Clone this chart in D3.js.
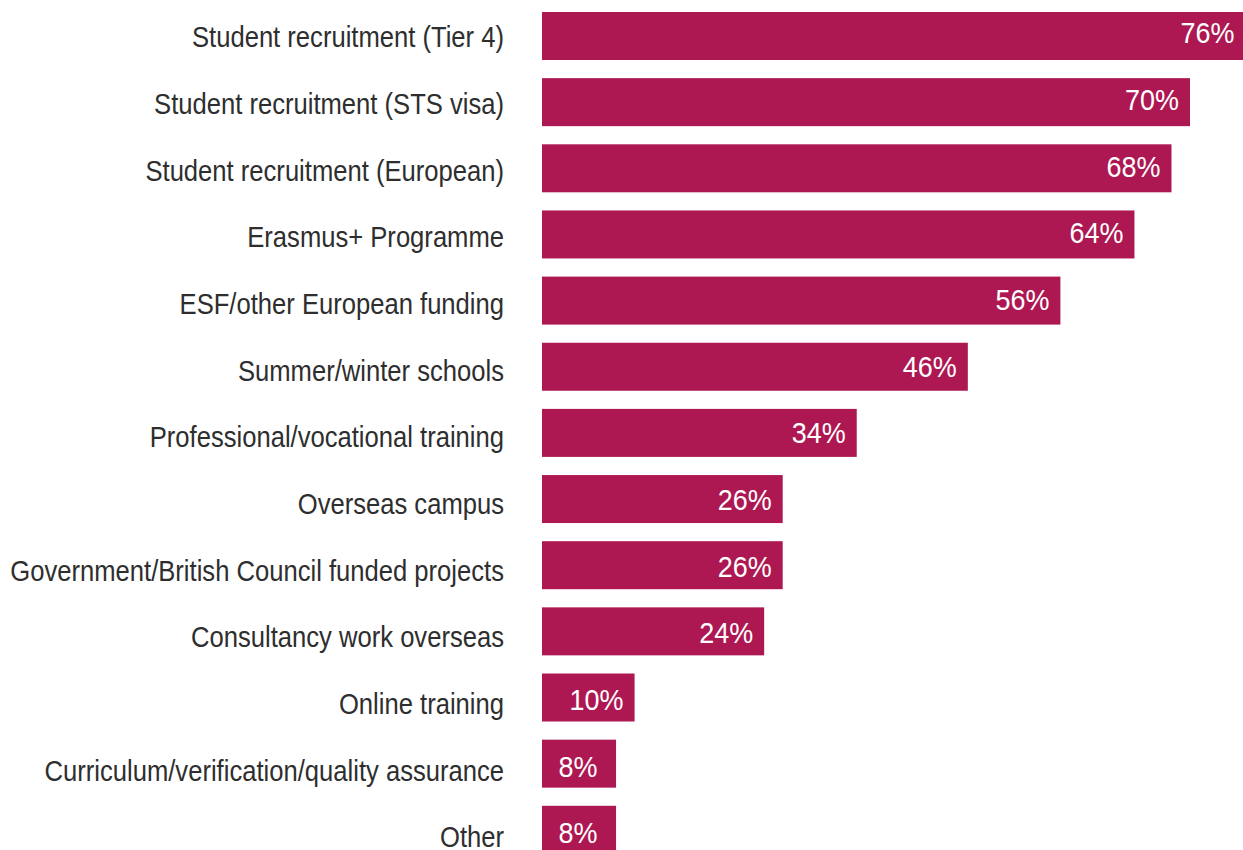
<!DOCTYPE html>
<html>
<head>
<meta charset="utf-8">
<script src="https://cdn.jsdelivr.net/npm/d3@7"></script>
<style>
  html, body { margin: 0; padding: 0; background: #fff; }
  svg { display: block; }
</style>
</head>
<body>
<svg id="chart" width="1243" height="850"></svg>
<script>
const categories = [
  "Student recruitment (Tier 4)",
  "Student recruitment (STS visa)",
  "Student recruitment (European)",
  "Erasmus+ Programme",
  "ESF/other European funding",
  "Summer/winter schools",
  "Professional/vocational training",
  "Overseas campus",
  "Government/British Council funded projects",
  "Consultancy work overseas",
  "Online training",
  "Curriculum/verification/quality assurance",
  "Other"
];
const values = [76, 70, 68, 64, 56, 46, 34, 26, 26, 24, 10, 8, 8];

const svg = d3.select("#chart");
const FONT = "'Liberation Sans', Arial, sans-serif";

const x = d3.scaleLinear().domain([0, 70]).range([542, 1190]);
const yBar = d3.scaleBand().domain(categories).range([12, 853.8]).paddingInner(0.2744).paddingOuter(0);
const yLab = d3.scalePoint().domain(categories).range([47.4, 847.3]);

const data = categories.map((c, i) => ({ c, v: values[i] }));

svg.append("g").selectAll("rect").data(data).join("rect")
  .attr("x", x(0))
  .attr("y", d => yBar(d.c))
  .attr("width", d => x(d.v) - x(0))
  .attr("height", yBar.bandwidth())
  .attr("fill", "#AD1852");

// category labels, condensed horizontally to mimic a condensed typeface
const labG = svg.append("g");
const labs = labG.selectAll("text").data(data).join("text")
  .attr("text-anchor", "end")
  .attr("font-family", FONT)
  .attr("font-size", 30)
  .attr("fill", "#2e2e2e")
  .text(d => d.c);
let maxW = 0;
labs.each(function () { maxW = Math.max(maxW, this.getComputedTextLength()); });
const kLab = 494 / maxW;
labs.attr("transform", d => `translate(504,${yLab(d.c)}) scale(${kLab},1)`);

// value labels
const valG = svg.append("g");
const vals = valG.selectAll("text").data(data).join("text")
  .attr("text-anchor", "middle")
  .attr("font-family", FONT)
  .attr("font-size", 29)
  .attr("fill", "#ffffff")
  .text(d => d.v + "%");
let w70 = 0;
vals.each(function (d) { if (d.v === 70) w70 = this.getComputedTextLength(); });
const kVal = 54 / w70;
vals.attr("transform", d => `translate(${x(d.v) - 38},${yLab(d.c) - 4}) scale(${kVal},1)`);
</script>
</body>
</html>
